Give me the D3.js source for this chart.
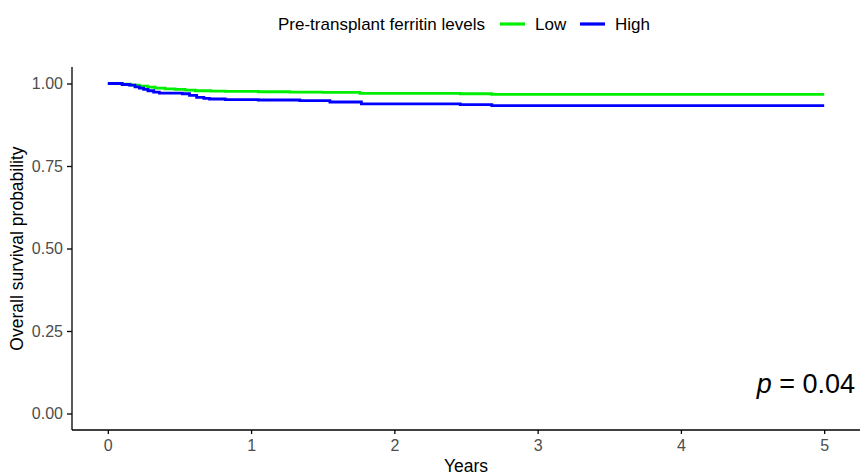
<!DOCTYPE html>
<html lang="en">
<head>
<meta charset="UTF-8" />
<title>Overall survival by ferritin</title>
<script src="https://cdn.jsdelivr.net/npm/d3@7"></script>
<style>
    body { margin: 0; background: #fff; }
    svg { font-family: "Liberation Sans", Arial, Helvetica, sans-serif; }
    .axis path, .axis line { stroke: #000; }
    .axis text { fill: #4d4d4d; font-size: 16px; }
</style>
</head>
<body>
<svg id="chart" width="865" height="476"></svg>
<script>
    // Kaplan-Meier step points (years, survival)
    const lowTimes  = [0, 0.10, 0.16, 0.22, 0.28, 0.33, 0.40, 0.47, 0.54, 0.61, 0.72, 0.82, 1.05, 1.27, 1.50, 1.76, 2.46, 2.68, 5.0]
    const lowSurv   = [1, 0.998, 0.995, 0.992, 0.989, 0.986, 0.984, 0.982, 0.980, 0.978, 0.977, 0.976, 0.975, 0.974, 0.973, 0.970, 0.969, 0.967, 0.967]
    const highTimes = [0, 0.10, 0.15, 0.19, 0.22, 0.25, 0.28, 0.32, 0.36, 0.52, 0.57, 0.62, 0.67, 0.71, 0.82, 1.05, 1.34, 1.55, 1.77, 2.46, 2.68, 5.0]
    const highSurv  = [1, 0.997, 0.995, 0.990, 0.986, 0.982, 0.978, 0.974, 0.971, 0.969, 0.964, 0.958, 0.955, 0.953, 0.951, 0.950, 0.948, 0.944, 0.938, 0.936, 0.933, 0.933]

    const groups = ['Low', 'High']
    const groupColors = ['#00ee00', '#0000ff']
    const xTicks = [0, 1, 2, 3, 4, 5]
    const yTicks = [0, 0.25, 0.5, 0.75, 1]
    const pLabel = '0.04'

    const panel = { left: 72, right: 860, top: 67, bottom: 430 }
    const svg = d3.select('#chart')

    const x = d3.scaleLinear().domain([-0.25, 5.25]).range([panel.left, panel.right])
    const y = d3.scaleLinear().domain([-0.05, 1.05]).range([panel.bottom, panel.top])

    // axes
    svg.append('g')
        .attr('class', 'axis')
        .attr('transform', `translate(0,${panel.bottom})`)
        .call(d3.axisBottom(x).tickValues(xTicks).tickSize(4).tickPadding(6).tickFormat(d3.format('d')))
        .call(g => g.select('.domain').attr('d', `M${panel.left},0H${panel.right}`))

    svg.append('g')
        .attr('class', 'axis')
        .attr('transform', `translate(${panel.left},0)`)
        .call(d3.axisLeft(y).tickValues(yTicks).tickSize(5).tickPadding(4).tickFormat(d3.format('.2f')))
        .call(g => g.select('.domain').attr('d', `M0,${panel.top}V${panel.bottom}`))

    svg.selectAll('.axis .domain').style('stroke-width', 1.3)
    svg.selectAll('.axis .tick line').style('stroke-width', 1.3)

    // curves
    const series = [
        lowTimes.map((t, i) => ({ t: t, s: lowSurv[i] })),
        highTimes.map((t, i) => ({ t: t, s: highSurv[i] }))
    ]
    const line = d3.line()
        .x(d => x(d.t))
        .y(d => y(d.s))
        .curve(d3.curveStepAfter)

    svg.selectAll('path.km')
        .data(series)
        .enter()
        .append('path')
        .attr('class', 'km')
        .attr('d', line)
        .style('fill', 'none')
        .style('stroke', (d, i) => groupColors[i])
        .style('stroke-width', 2.8)

    // axis titles
    svg.append('text')
        .attr('x', (panel.left + panel.right) / 2)
        .attr('y', 472)
        .attr('text-anchor', 'middle')
        .style('font-size', '17.5px')
        .text('Years')

    svg.append('text')
        .attr('transform', `translate(23,${(panel.top + panel.bottom) / 2}) rotate(-90)`)
        .attr('text-anchor', 'middle')
        .style('font-size', '17.5px')
        .text('Overall survival probability')

    // legend
    const legend = svg.append('g').attr('transform', 'translate(0,24)')
    legend.append('text')
        .attr('x', 278)
        .attr('y', 6)
        .style('font-size', '17px')
        .text('Pre-transplant ferritin levels')
    const keyX = [500, 580]
    groups.forEach((g, i) => {
        legend.append('line')
            .attr('x1', keyX[i]).attr('x2', keyX[i] + 25)
            .attr('y1', 0).attr('y2', 0)
            .style('stroke', groupColors[i])
            .style('stroke-width', 3.2)
        legend.append('text')
            .attr('x', keyX[i] + 35)
            .attr('y', 6)
            .style('font-size', '17px')
            .text(g)
    })

    // p-value
    const p = svg.append('text')
        .attr('x', 855)
        .attr('y', 393)
        .attr('text-anchor', 'end')
        .style('font-size', '27px')
    p.append('tspan').style('font-style', 'italic').text('p')
    p.append('tspan').text(' = ' + pLabel)
</script>
</body>
</html>
